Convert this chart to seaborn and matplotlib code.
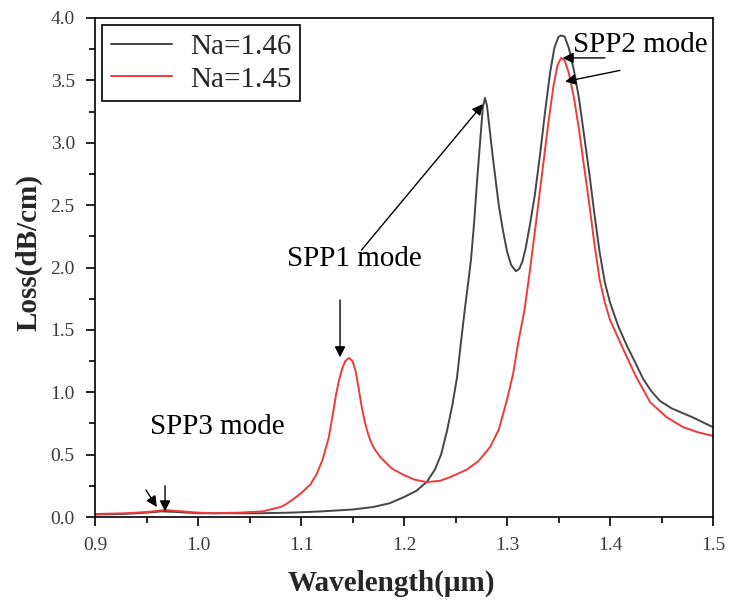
import matplotlib
matplotlib.use("Agg")
import matplotlib.pyplot as plt
from matplotlib.ticker import MultipleLocator
import seaborn as sns
import pandas as pd

# Loss spectrum, Na = 1.46
wl_146 = [0.900, 0.930, 0.950, 0.965, 0.980, 1.000, 1.030, 1.060, 1.090, 1.120,
          1.150, 1.170, 1.186, 1.200, 1.212, 1.222, 1.230, 1.236, 1.242, 1.247,
          1.2515, 1.255, 1.259, 1.262, 1.265, 1.268, 1.271, 1.274, 1.2765, 1.2786,
          1.2805, 1.283, 1.286, 1.289, 1.292, 1.296, 1.300, 1.304, 1.3087, 1.312,
          1.315, 1.318, 1.322, 1.327, 1.332, 1.337, 1.342, 1.346, 1.350, 1.353,
          1.356, 1.360, 1.365, 1.370, 1.375, 1.380, 1.385, 1.390, 1.395, 1.400,
          1.408, 1.416, 1.425, 1.432, 1.440, 1.4485, 1.460, 1.480, 1.500]
loss_146 = [0.020, 0.025, 0.035, 0.045, 0.040, 0.030, 0.030, 0.030, 0.035, 0.045,
            0.060, 0.080, 0.110, 0.160, 0.210, 0.280, 0.380, 0.500, 0.700, 0.900,
            1.120, 1.380, 1.660, 1.860, 2.060, 2.350, 2.700, 3.020, 3.280, 3.360,
            3.300, 3.120, 2.900, 2.700, 2.500, 2.300, 2.130, 2.020, 1.970, 1.990,
            2.050, 2.150, 2.330, 2.580, 2.900, 3.250, 3.570, 3.760, 3.850, 3.860,
            3.850, 3.760, 3.580, 3.350, 3.050, 2.750, 2.420, 2.120, 1.880, 1.720,
            1.530, 1.380, 1.230, 1.110, 1.010, 0.930, 0.870, 0.800, 0.720]

# Loss spectrum, Na = 1.45
wl_145 = [0.900, 0.930, 0.950, 0.968, 0.985, 1.000, 1.015, 1.040, 1.063, 1.070,
          1.080, 1.085, 1.092, 1.100, 1.109, 1.115, 1.121, 1.127, 1.131, 1.134,
          1.137, 1.140, 1.143, 1.1466, 1.150, 1.153, 1.156, 1.159, 1.162, 1.165,
          1.168, 1.171, 1.177, 1.188, 1.199, 1.210, 1.222, 1.235, 1.245, 1.261,
          1.2725, 1.2835, 1.292, 1.300, 1.306, 1.3107, 1.317, 1.322, 1.328, 1.334,
          1.340, 1.345, 1.349, 1.3525, 1.356, 1.360, 1.365, 1.370, 1.375, 1.380,
          1.385, 1.390, 1.395, 1.400, 1.412, 1.425, 1.439, 1.455, 1.471, 1.485,
          1.500]
loss_145 = [0.024, 0.030, 0.040, 0.056, 0.045, 0.035, 0.030, 0.035, 0.045, 0.060,
            0.080, 0.100, 0.140, 0.190, 0.260, 0.340, 0.460, 0.640, 0.830, 0.980,
            1.100, 1.190, 1.250, 1.275, 1.250, 1.170, 1.030, 0.880, 0.760, 0.670,
            0.600, 0.550, 0.480, 0.390, 0.340, 0.300, 0.280, 0.290, 0.320, 0.380,
            0.450, 0.560, 0.700, 0.940, 1.150, 1.390, 1.660, 1.960, 2.350, 2.750,
            3.150, 3.450, 3.620, 3.680, 3.660, 3.560, 3.360, 3.100, 2.800, 2.500,
            2.180, 1.900, 1.720, 1.580, 1.360, 1.130, 0.920, 0.800, 0.720, 0.680,
            0.650]

labels = ["Na=1.46", "Na=1.45"]
colors = ["#454545", "#f03a3a"]

df = pd.concat([
    pd.DataFrame({"Wavelength": wl_146, "Loss": loss_146, "Na": labels[0]}),
    pd.DataFrame({"Wavelength": wl_145, "Loss": loss_145, "Na": labels[1]}),
], ignore_index=True)

sns.set_theme(style="ticks")
plt.rcParams["font.family"] = ["Liberation Serif", "DejaVu Serif"]
plt.rcParams["axes.linewidth"] = 1.2

fig = plt.figure(figsize=(7.32, 6.04), dpi=100)
ax = fig.add_axes([95 / 732, (604 - 517) / 604, (713 - 95) / 732, (517 - 18) / 604])

sns.lineplot(data=df, x="Wavelength", y="Loss", hue="Na", hue_order=labels,
             palette=colors, linewidth=1.4, sort=False, estimator=None, ax=ax)

ax.set_xlim(0.9, 1.5)
ax.set_ylim(0.0, 4.0)
ax.xaxis.set_major_locator(MultipleLocator(0.1))
ax.xaxis.set_minor_locator(MultipleLocator(0.05))
ax.yaxis.set_major_locator(MultipleLocator(0.5))
ax.yaxis.set_minor_locator(MultipleLocator(0.25))
ax.xaxis.set_major_formatter(plt.FuncFormatter(lambda v, p: f"{v:.1f}"))
ax.yaxis.set_major_formatter(plt.FuncFormatter(lambda v, p: f"{v:.1f}"))
ax.tick_params(which="major", direction="out", length=6.5, width=1.2,
               labelsize=14, labelcolor="#3a3a3a", color="black", pad=8)
ax.tick_params(which="minor", direction="out", length=4, width=1.2, color="black")
for s in ax.spines.values():
    s.set_color("black")
    s.set_linewidth(1.2)

ax.set_xlabel("Wavelength(μm)", fontsize=21, fontweight="bold")
ax.set_ylabel("Loss(dB/cm)", fontsize=21, fontweight="bold")
ax.xaxis.set_label_coords(0.48, -0.105)
ax.yaxis.set_label_coords(-0.085, 0.53)

leg = ax.legend(loc="upper left", fontsize=21, frameon=True, fancybox=False,
                framealpha=1, edgecolor="black", handlelength=2.1,
                handletextpad=0.6, labelspacing=0.2, borderpad=0.3,
                borderaxespad=0.25)
leg.get_frame().set_linewidth(1.2)
for h in leg.get_lines():
    h.set_linewidth(1.4)

arrow = dict(arrowstyle="-|>", color="black", lw=1.0, mutation_scale=16,
             shrinkA=0, shrinkB=0)
ann_font = dict(fontsize=21, color="black")

# SPP1 mode
ax.text(1.0864, 2.07, "SPP1 mode", ha="left", va="center", **ann_font)
ax.annotate("", xy=(1.2767, 3.31), xytext=(1.1587, 2.14), arrowprops=arrow)
ax.annotate("", xy=(1.1379, 1.28), xytext=(1.1379, 1.74), arrowprops=arrow)

# SPP2 mode
ax.text(1.364, 3.78, "SPP2 mode", ha="left", va="center", **ann_font)
ax.annotate("", xy=(1.354, 3.68), xytext=(1.395, 3.68), arrowprops=arrow)
ax.annotate("", xy=(1.3563, 3.49), xytext=(1.4097, 3.58), arrowprops=arrow)

# SPP3 mode
ax.text(0.9534, 0.72, "SPP3 mode", ha="left", va="center", **ann_font)
ax.annotate("", xy=(0.968, 0.045), xytext=(0.968, 0.25), arrowprops=arrow)
ax.annotate("", xy=(0.960, 0.08), xytext=(0.9495, 0.216), arrowprops=arrow)

fig.savefig("out.png", dpi=100, facecolor="white")
